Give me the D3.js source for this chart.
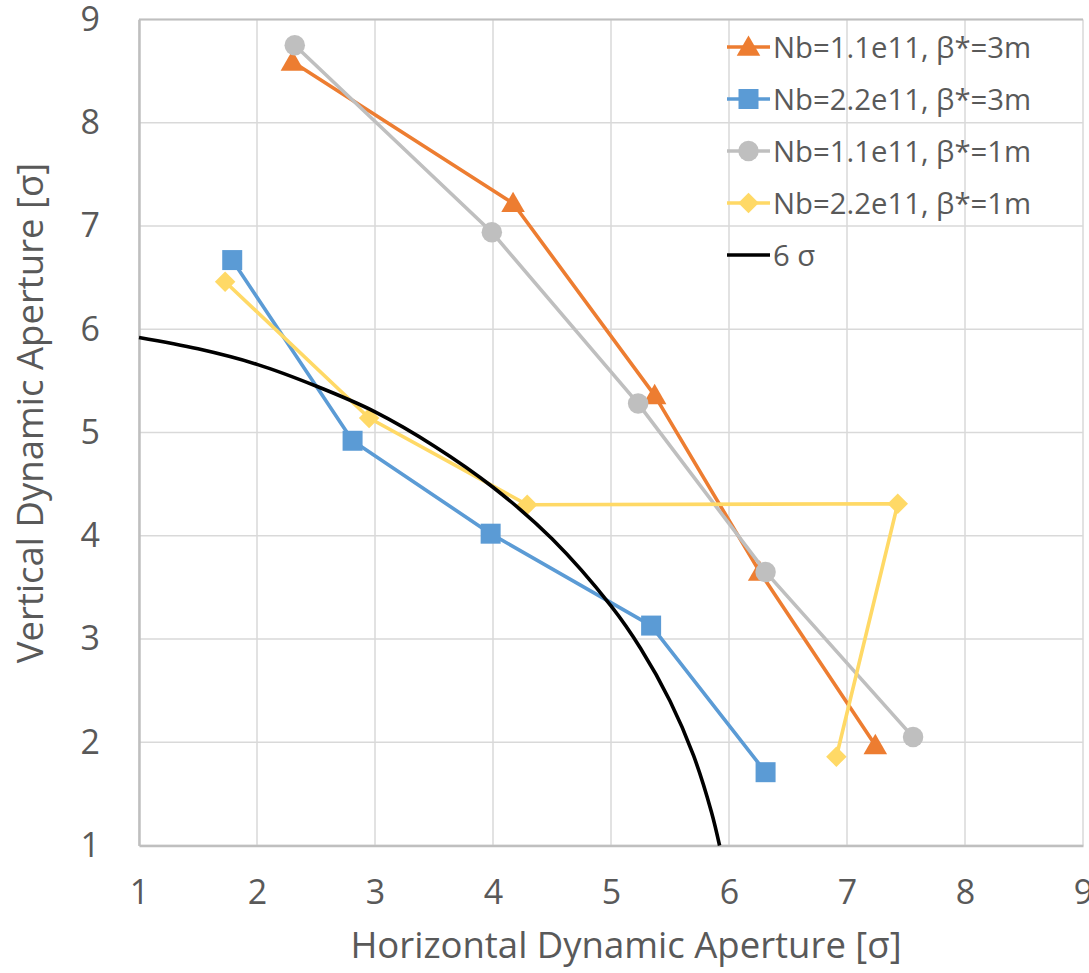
<!DOCTYPE html>
<html>
<head>
<meta charset="utf-8">
<script src="https://cdn.jsdelivr.net/npm/d3@7"></script>
<style>
  html, body { margin: 0; padding: 0; background: #ffffff; }
  svg { display: block; }
  text { font-family: "Open Sans", "Noto Sans", sans-serif; fill: #595959; }
</style>
</head>
<body>
<div id="chart"></div>
<script>
// Dynamic aperture scan: horizontal vs vertical aperture in beam sigma
const seriesNames = [
  "Nb=1.1e11, β*=3m",
  "Nb=2.2e11, β*=3m",
  "Nb=1.1e11, β*=1m",
  "Nb=2.2e11, β*=1m"
];
const hNb11b3 = [2.30, 4.17, 5.37, 6.26, 7.24];
const vNb11b3 = [8.59, 7.22, 5.36, 3.65, 1.97];
const hNb22b3 = [1.79, 2.81, 3.98, 5.34, 6.31];
const vNb22b3 = [6.67, 4.92, 4.02, 3.13, 1.71];
const hNb11b1 = [2.32, 3.99, 5.23, 6.31, 7.56];
const vNb11b1 = [8.75, 6.94, 5.28, 3.65, 2.05];
const hNb22b1 = [1.73, 2.95, 4.29, 7.43, 6.91];
const vNb22b1 = [6.46, 5.14, 4.30, 4.31, 1.86];

// 6 sigma reference contour
const sigmaLabel = "6 σ";
const hSigma = [1.00, 1.50, 2.00, 2.50, 3.00, 3.50, 4.00, 4.50, 5.00, 5.25, 5.50, 5.70, 5.85, 5.92];
const vSigma = [5.92, 5.81, 5.66, 5.45, 5.20, 4.87, 4.47, 3.97, 3.32, 2.91, 2.40, 1.87, 1.33, 1.00];

const xTicks = [1, 2, 3, 4, 5, 6, 7, 8, 9];
const yTicks = [1, 2, 3, 4, 5, 6, 7, 8, 9];
const xTitle = "Horizontal Dynamic Aperture [σ]";
const yTitle = "Vertical Dynamic Aperture [σ]";

const W = 1089, H = 973;
const plot = { left: 139, right: 1083, top: 19.5, bottom: 845.5 };

const svg = d3.select("#chart").append("svg")
  .attr("width", W).attr("height", H);

const x = d3.scaleLinear().domain([1, 9]).range([plot.left, plot.right]);
const y = d3.scaleLinear().domain([1, 9]).range([plot.bottom, plot.top]);

// gridlines
const grid = svg.append("g");
grid.selectAll("line.vx").data(xTicks).join("line")
  .attr("x1", d => x(d)).attr("x2", d => x(d))
  .attr("y1", plot.top).attr("y2", plot.bottom)
  .attr("stroke", "#d9d9d9").attr("stroke-width", 1.5);
grid.selectAll("line.hy").data(yTicks).join("line")
  .attr("y1", d => y(d)).attr("y2", d => y(d))
  .attr("x1", plot.left).attr("x2", plot.right)
  .attr("stroke", "#d9d9d9").attr("stroke-width", 1.5);

// axes
const xAxis = d3.axisBottom(x).tickValues(xTicks).tickSize(0).tickPadding(34).tickFormat(d3.format("d"));
const yAxis = d3.axisLeft(y).tickValues(yTicks).tickSize(0).tickPadding(39).tickFormat(d3.format("d"));

const gx = svg.append("g").attr("transform", `translate(0,${plot.bottom})`).call(xAxis);
const gy = svg.append("g").attr("transform", `translate(${plot.left},0)`).call(yAxis);
[gx, gy].forEach(g => {
  g.select(".domain").attr("stroke", "#bfbfbf").attr("stroke-width", 2.5);
  g.selectAll("text").attr("font-size", 34).attr("fill", "#595959")
    .style("font-family", '"Open Sans", sans-serif');
});
svg.append("line")
  .attr("x1", plot.left).attr("x2", plot.right)
  .attr("y1", plot.top).attr("y2", plot.top)
  .attr("stroke", "#bfbfbf").attr("stroke-width", 2);

// axis titles
svg.append("text")
  .attr("x", (plot.left + plot.right) / 2 + 15).attr("y", 958)
  .attr("text-anchor", "middle").attr("font-size", 36.5)
  .text(xTitle);
svg.append("text")
  .attr("transform", `translate(43,413) rotate(-90)`)
  .attr("text-anchor", "middle").attr("font-size", 36.5)
  .text(yTitle);

// series
const zip = (hs, vs) => hs.map((h, i) => ({ h, v: vs[i] }));
const series = [
  { name: seriesNames[0], pts: zip(hNb11b3, vNb11b3), color: "#ed7d31", shape: "triangle" },
  { name: seriesNames[1], pts: zip(hNb22b3, vNb22b3), color: "#5b9bd5", shape: "square" },
  { name: seriesNames[2], pts: zip(hNb11b1, vNb11b1), color: "#bfbfbf", shape: "circle" },
  { name: seriesNames[3], pts: zip(hNb22b1, vNb22b1), color: "#ffd966", shape: "diamond" }
];

const symbolFor = {
  triangle: d3.symbol().type(d3.symbolTriangle).size(240),
  square: d3.symbol().type(d3.symbolSquare).size(400),
  circle: d3.symbol().type(d3.symbolCircle).size(330),
  diamond: d3.symbol().type(d3.symbolSquare).size(210)
};
const rotFor = { triangle: 0, square: 0, circle: 0, diamond: 45 };
const dyFor = { triangle: 2, square: 0, circle: 0, diamond: 0 };

const line = d3.line().x(d => x(d.h)).y(d => y(d.v));

series.forEach(s => {
  const g = svg.append("g");
  g.append("path").datum(s.pts)
    .attr("d", line)
    .attr("fill", "none").attr("stroke", s.color)
    .attr("stroke-width", 3.6).attr("stroke-linejoin", "round");
  g.selectAll("path.m").data(s.pts).join("path")
    .attr("class", "m")
    .attr("d", symbolFor[s.shape]())
    .attr("transform", d => `translate(${x(d.h)},${y(d.v) + dyFor[s.shape]}) rotate(${rotFor[s.shape]})`)
    .attr("fill", s.color);
});

// 6 sigma contour
const sigmaPts = zip(hSigma, vSigma);
svg.append("path").datum(sigmaPts)
  .attr("d", d3.line().x(d => x(d.h)).y(d => y(d.v)).curve(d3.curveCatmullRom))
  .attr("fill", "none").attr("stroke", "#000000").attr("stroke-width", 3.6);

// legend
const legend = svg.append("g");
const legItems = series.map(s => ({ name: s.name, color: s.color, shape: s.shape }))
  .concat([{ name: sigmaLabel, color: "#000000", shape: null }]);
const legX0 = 727, legX1 = 770, legY0 = 47, legStep = 52;
legItems.forEach((it, i) => {
  const cy = legY0 + i * legStep;
  legend.append("line")
    .attr("x1", legX0).attr("x2", legX1).attr("y1", cy).attr("y2", cy)
    .attr("stroke", it.color).attr("stroke-width", 3.6);
  if (it.shape) {
    legend.append("path")
      .attr("d", symbolFor[it.shape]())
      .attr("transform", `translate(${(legX0 + legX1) / 2},${cy + dyFor[it.shape]}) rotate(${rotFor[it.shape]})`)
      .attr("fill", it.color);
  }
  legend.append("text")
    .attr("x", legX1 + 3).attr("y", cy)
    .attr("dy", "0.36em").attr("font-size", 29.3)
    .text(it.name);
});
</script>
</body>
</html>
